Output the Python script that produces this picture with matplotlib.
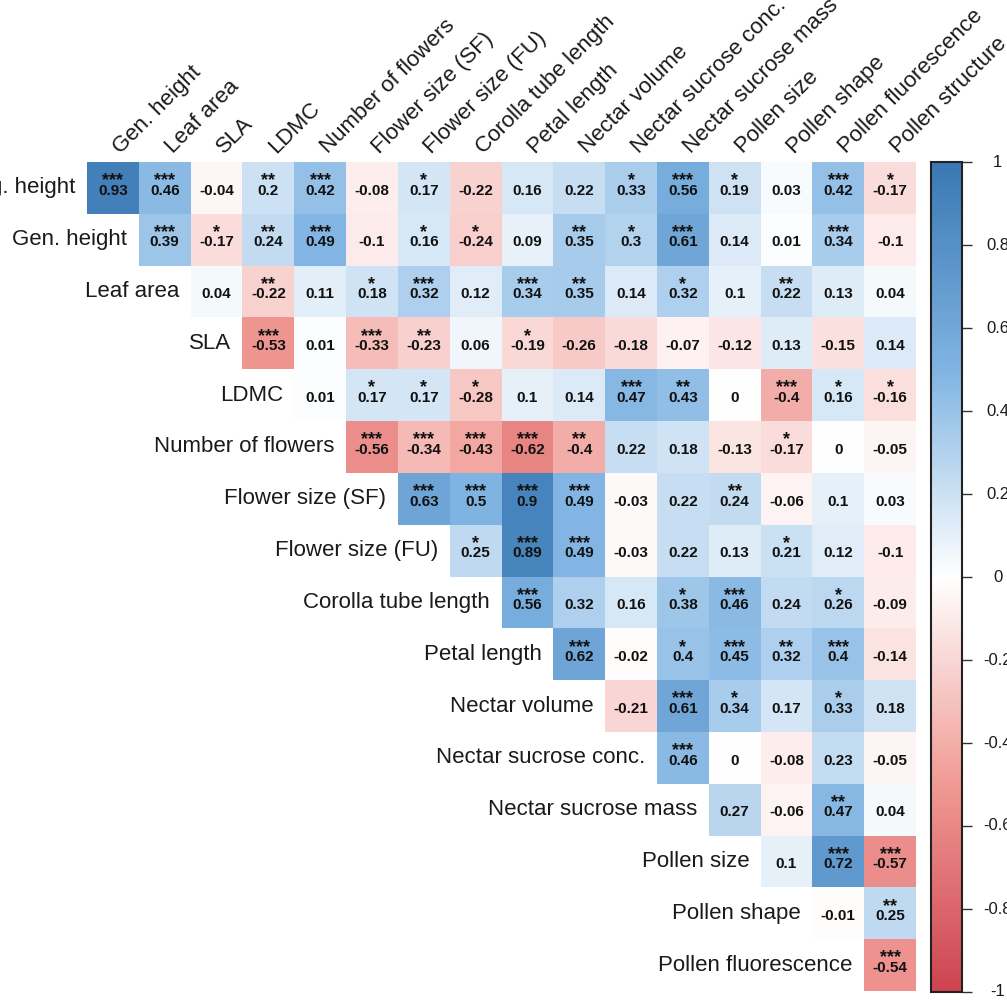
import numpy as np
import matplotlib
matplotlib.use("Agg")
import matplotlib.pyplot as plt
from matplotlib.colors import LinearSegmentedColormap

plt.rcParams['font.family'] = ['Liberation Sans', 'DejaVu Sans']

row_names = ["Veg. height", "Gen. height", "Leaf area", "SLA", "LDMC",
             "Number of flowers", "Flower size (SF)", "Flower size (FU)",
             "Corolla tube length", "Petal length", "Nectar volume",
             "Nectar sucrose conc.", "Nectar sucrose mass", "Pollen size",
             "Pollen shape", "Pollen fluorescence"]
col_names = ["Gen. height", "Leaf area", "SLA", "LDMC", "Number of flowers",
             "Flower size (SF)", "Flower size (FU)", "Corolla tube length",
             "Petal length", "Nectar volume", "Nectar sucrose conc.",
             "Nectar sucrose mass", "Pollen size", "Pollen shape",
             "Pollen fluorescence", "Pollen structure"]

# upper triangle, row i starts at column i
corr = [
    [0.93, 0.46, -0.04, 0.2, 0.42, -0.08, 0.17, -0.22, 0.16, 0.22, 0.33, 0.56, 0.19, 0.03, 0.42, -0.17],
    [0.39, -0.17, 0.24, 0.49, -0.1, 0.16, -0.24, 0.09, 0.35, 0.3, 0.61, 0.14, 0.01, 0.34, -0.1],
    [0.04, -0.22, 0.11, 0.18, 0.32, 0.12, 0.34, 0.35, 0.14, 0.32, 0.1, 0.22, 0.13, 0.04],
    [-0.53, 0.01, -0.33, -0.23, 0.06, -0.19, -0.26, -0.18, -0.07, -0.12, 0.13, -0.15, 0.14],
    [0.01, 0.17, 0.17, -0.28, 0.1, 0.14, 0.47, 0.43, 0, -0.4, 0.16, -0.16],
    [-0.56, -0.34, -0.43, -0.62, -0.4, 0.22, 0.18, -0.13, -0.17, 0, -0.05],
    [0.63, 0.5, 0.9, 0.49, -0.03, 0.22, 0.24, -0.06, 0.1, 0.03],
    [0.25, 0.89, 0.49, -0.03, 0.22, 0.13, 0.21, 0.12, -0.1],
    [0.56, 0.32, 0.16, 0.38, 0.46, 0.24, 0.26, -0.09],
    [0.62, -0.02, 0.4, 0.45, 0.32, 0.4, -0.14],
    [-0.21, 0.61, 0.34, 0.17, 0.33, 0.18],
    [0.46, 0, -0.08, 0.23, -0.05],
    [0.27, -0.06, 0.47, 0.04],
    [0.1, 0.72, -0.57],
    [-0.01, 0.25],
    [-0.54],
]
stars = [
    [3, 3, 0, 2, 3, 0, 1, 0, 0, 0, 1, 3, 1, 0, 3, 1],
    [3, 1, 2, 3, 0, 1, 1, 0, 2, 1, 3, 0, 0, 3, 0],
    [0, 2, 0, 1, 3, 0, 3, 2, 0, 1, 0, 2, 0, 0],
    [3, 0, 3, 2, 0, 1, 0, 0, 0, 0, 0, 0, 0],
    [0, 1, 1, 1, 0, 0, 3, 2, 0, 3, 1, 1],
    [3, 3, 3, 3, 2, 0, 0, 0, 1, 0, 0],
    [3, 3, 3, 3, 0, 0, 2, 0, 0, 0],
    [1, 3, 3, 0, 0, 0, 1, 0, 0],
    [3, 0, 0, 1, 3, 0, 1, 0],
    [3, 0, 1, 3, 2, 3, 0],
    [0, 3, 1, 0, 1, 0],
    [3, 0, 0, 0, 0],
    [0, 0, 2, 0],
    [0, 3, 3],
    [0, 2],
    [3],
]

n = len(row_names)
mat = np.full((n, n), np.nan)
for i, row in enumerate(corr):
    mat[i, i:i + len(row)] = row

cmap = LinearSegmentedColormap.from_list(
    "rb", [(0.0, "#cd4350"), (0.25, "#f09a94"), (0.5, "#ffffff"),
           (0.75, "#80b4e2"), (1.0, "#3a78b3")])

fig = plt.figure(figsize=(10.07, 10.06), dpi=100)
ax = fig.add_axes([87 / 1007, 1 - 991 / 1006, 829 / 1007, 829 / 1006])
mesh = ax.pcolormesh(np.arange(n + 1), np.arange(n + 1), np.ma.masked_invalid(mat),
                     cmap=cmap, vmin=-1, vmax=1)
ax.set_xlim(0, n)
ax.set_ylim(n, 0)
ax.axis("off")

for i, row in enumerate(corr):
    for k, v in enumerate(row):
        j = i + k
        ax.text(j + 0.5, i + 0.63, f"{v:g}", ha="center", va="baseline",
                fontsize=11, fontweight="bold", color="#111111")
        if stars[i][k]:
            ax.text(j + 0.5, i + 0.45, "*" * stars[i][k], ha="center", va="baseline",
                    fontsize=13, fontweight="bold", color="#111111")
    ax.text(i - 0.22, i + 0.5, row_names[i], ha="right", va="center",
            fontsize=16, color="#1a1a1a", clip_on=False)

for j, name in enumerate(col_names):
    ax.text(j + 0.72, -0.08, name, ha="left", va="bottom", rotation=45,
            rotation_mode="anchor", fontsize=16, color="#1a1a1a", clip_on=False)

cax = fig.add_axes([931 / 1007, 1 - 992 / 1006, 31 / 1007, 830 / 1006])
cb = fig.colorbar(mesh, cax=cax)
cb.outline.set_linewidth(1.5)
cb.outline.set_edgecolor("#222222")
ticks = [-1, -0.8, -0.6, -0.4, -0.2, 0, 0.2, 0.4, 0.6, 0.8, 1]
cb.set_ticks(ticks)
cb.ax.set_yticklabels([])
cb.ax.tick_params(length=7, width=1, color="#333333")
for t in ticks:
    cb.ax.text(2.15, t, f"{t:g}", transform=cb.ax.get_yaxis_transform(),
               ha="center", va="center", fontsize=12, color="#1a1a1a")

fig.savefig("out.png", dpi=100)
